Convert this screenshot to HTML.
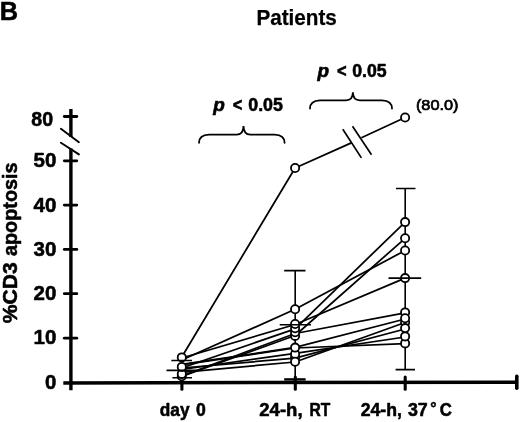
<!DOCTYPE html>
<html><head><meta charset="utf-8"><title>Patients</title>
<style>
html,body{margin:0;padding:0;background:#fff;}
body{width:520px;height:422px;overflow:hidden;}
svg{display:block;}
text{font-family:"Liberation Sans",Arial,Helvetica,sans-serif;fill:#000;}
.b{font-weight:bold;stroke:#000;stroke-width:0.55px;stroke-linejoin:round;}
</style></head><body>
<svg width="520" height="422" viewBox="0 0 520 422">
<rect width="520" height="422" fill="#fff"/>

<text class="b" x="-0.3" y="19.7" font-size="26.5" textLength="18.3" lengthAdjust="spacingAndGlyphs">B</text>
<text class="b" x="256.4" y="24.8" font-size="22.3" textLength="80.5" lengthAdjust="spacingAndGlyphs" style="stroke-width:0.25px">Patients</text>
<g transform="translate(17.4,0) rotate(-90)">
<text class="b" y="0"><tspan x="-323.2" font-size="20.5" textLength="60.8" lengthAdjust="spacingAndGlyphs">%CD3</tspan> <tspan x="-256" font-size="20" textLength="93.5" lengthAdjust="spacingAndGlyphs">apoptosis</tspan></text>
</g>
<text class="b" x="31.3" y="125.5" font-size="20.3" textLength="21.8" lengthAdjust="spacingAndGlyphs">80</text>
<text class="b" x="33.5" y="167.39999999999998" font-size="20.3" textLength="22.8" lengthAdjust="spacingAndGlyphs">50</text>
<text class="b" x="33.5" y="211.6" font-size="20.3" textLength="22.8" lengthAdjust="spacingAndGlyphs">40</text>
<text class="b" x="33.5" y="255.89999999999998" font-size="20.3" textLength="22.8" lengthAdjust="spacingAndGlyphs">30</text>
<text class="b" x="33.5" y="300.2" font-size="20.3" textLength="22.8" lengthAdjust="spacingAndGlyphs">20</text>
<text class="b" x="33.5" y="344.3" font-size="20.3" textLength="22.8" lengthAdjust="spacingAndGlyphs">10</text>
<text class="b" x="45.0" y="389.3" font-size="20.3" textLength="11.3" lengthAdjust="spacingAndGlyphs">0</text>
<text class="b" y="415.6"><tspan x="159.8" font-size="18" textLength="29.8" lengthAdjust="spacingAndGlyphs">day</tspan> <tspan x="196" font-size="18" textLength="9.8" lengthAdjust="spacingAndGlyphs">0</tspan></text>
<text class="b" y="415.6"><tspan x="259.3" font-size="18" textLength="43.3" lengthAdjust="spacingAndGlyphs">24-h,</tspan> <tspan x="309.5" font-size="18" textLength="20.8" lengthAdjust="spacingAndGlyphs">RT</tspan></text>
<text class="b" y="415.6"><tspan x="360.7" font-size="18" textLength="41.2" lengthAdjust="spacingAndGlyphs">24-h,</tspan> <tspan x="407.9" font-size="18" textLength="19.8" lengthAdjust="spacingAndGlyphs">37</tspan><tspan x="430.3" y="413.4" font-size="15" textLength="6.2" lengthAdjust="spacingAndGlyphs">°</tspan><tspan x="439.8" y="415.6" font-size="18" textLength="12.1" lengthAdjust="spacingAndGlyphs">C</tspan></text>
<text class="b" y="110.8"><tspan x="213.3" font-size="17.5" textLength="11.6" lengthAdjust="spacingAndGlyphs" font-style="italic">p</tspan> <tspan x="232.7" font-size="17.5" textLength="9.6" lengthAdjust="spacingAndGlyphs">&lt;</tspan> <tspan x="248.3" font-size="17.5" textLength="34.6" lengthAdjust="spacingAndGlyphs">0.05</tspan></text>
<text class="b" y="76.6"><tspan x="317.5" font-size="17.5" textLength="11.6" lengthAdjust="spacingAndGlyphs" font-style="italic">p</tspan> <tspan x="336.9" font-size="17.5" textLength="9.6" lengthAdjust="spacingAndGlyphs">&lt;</tspan> <tspan x="352.2" font-size="17.5" textLength="34.4" lengthAdjust="spacingAndGlyphs">0.05</tspan></text>
<text class="r" x="415.9" y="109.9" font-size="15.5" textLength="42.6" lengthAdjust="spacingAndGlyphs" stroke="#000" stroke-width="0.7">(80.0)</text>
<g stroke="#000" fill="none" stroke-linecap="butt">
<path d="M70.9 109 V137 M70.9 148.5 V390.3" stroke-width="3.4"/>
<path d="M63.3 382.9 L518 382.2" stroke-width="3.5"/>
</g>
<g stroke="#000" stroke-width="2.8" fill="none" stroke-linecap="round">
<path d="M64.3 116.5 H76.8"/>
<path d="M64.3 160.8 H76.8"/>
<path d="M64.3 205.1 H76.8"/>
<path d="M64.3 249.4 H76.8"/>
<path d="M64.3 293.7 H76.8"/>
<path d="M64.3 338.2 H76.8"/>
<path d="M181.9 377 V389.3" stroke-width="3.1"/>
<path d="M295.3 377 V389.3" stroke-width="3.1"/>
<path d="M405.2 377 V389.3" stroke-width="3.1"/>
<path d="M516.8 376.2 V388.2" stroke-width="3.6"/>
</g>
<g stroke="#000" stroke-width="1.9" fill="none" stroke-linecap="round">
<path d="M60.9 128.8 L78.9 142.3 M60.9 142.7 L78.9 154.4"/>
</g>
<g stroke="#000" stroke-width="1.6" fill="none">
<path d="M181.8 353 V382 M295.2 270.6 V380 M405.2 188.5 V369.6"/>
</g>
<g stroke="#000" stroke-width="1.75" fill="none" stroke-linejoin="round">
<path d="M181.8 357 L295.1 168 L351.9 142.6 M361.4 137.7 L405.1 117.5"/>
<path d="M181.8 360 L295.1 309.3 L405.1 250.5"/>
<path d="M181.8 358 L295.1 324.5 L405.1 278.1"/>
<path d="M181.8 368 L295.1 328.8 L405.1 222.1"/>
<path d="M181.8 376.5 L295.1 335.5 L405.1 238.3"/>
<path d="M181.8 376 L295.1 333.5 L405.1 312.8"/>
<path d="M181.8 364.4 L295.1 347.4 L405.1 319"/>
<path d="M181.8 369.5 L295.1 353.3 L405.1 337"/>
<path d="M181.8 368 L295.1 358.1 L405.1 329"/>
<path d="M181.8 372.3 L295.1 362 L405.1 322.5"/>
<path d="M181.8 364.8 L295.1 348 L405.1 343.6"/>
<path d="M342.8 129.2 L361.4 157.9 M352.5 126.3 L371.5 154.7" stroke-width="1.7"/>
</g>
<g stroke="#000" stroke-width="1.8" fill="#fff">
<circle cx="181.8" cy="376.3" r="4.1"/>
<circle cx="181.8" cy="374" r="4.1"/>
<circle cx="181.8" cy="366.9" r="4.1"/>
<circle cx="181.8" cy="357.4" r="4.1"/>
<circle cx="295.1" cy="357.5" r="4.1"/>
<circle cx="295.1" cy="354" r="4.1"/>
<circle cx="295.1" cy="361.7" r="4.1"/>
<circle cx="295.1" cy="347.6" r="4.1"/>
<circle cx="295.1" cy="335.9" r="4.1"/>
<circle cx="295.1" cy="332.2" r="4.1"/>
<circle cx="295.1" cy="328.2" r="4.1"/>
<circle cx="295.1" cy="324" r="4.1"/>
<circle cx="295.1" cy="309.2" r="4.1"/>
<circle cx="295.1" cy="168" r="4.1"/>
<circle cx="405.1" cy="322.5" r="4.1"/>
<circle cx="405.1" cy="343.4" r="4.1"/>
<circle cx="405.1" cy="312.4" r="4.1"/>
<circle cx="405.1" cy="336.4" r="4.1"/>
<circle cx="405.1" cy="328.1" r="4.1"/>
<circle cx="405.1" cy="318.2" r="4.1"/>
<circle cx="405.1" cy="278.1" r="4.1"/>
<circle cx="405.1" cy="250.5" r="4.1"/>
<circle cx="405.1" cy="238.3" r="4.1"/>
<circle cx="405.1" cy="222.1" r="4.1"/>
<circle cx="405.1" cy="117.5" r="4.1"/>
</g>
<g stroke="#000" stroke-width="1.6" fill="none">
<path d="M171.3 360.5 H192 M166.5 370.4 H197 M172.4 377.7 H192"/>
<path d="M284.2 270.6 H305.5 M279.7 324.7 H311"/>
<path d="M396 188.5 H415.5 M388.5 278.1 H421.2 M395.6 369.6 H415"/>
</g>
<path d="M284.2 379.4 H305.6" stroke="#000" stroke-width="2.4"/>
<g stroke="#000" stroke-width="1.8" fill="none" stroke-linecap="round">
<path d="M199 142.8 C199 137.6 202 134.9 209 134.6 L236.5 134.6 C241.5 134.6 243.5 131.6 243.5 126 C243.5 131.6 245.5 134.6 250.5 134.6 L274.6 134.6 C281.6 134.9 284.6 137.6 284.6 142.8"/>
<path d="M310 108.5 C310 103.3 313 100.6 320 100.3 L345.9 100.3 C350.9 100.3 352.9 97.3 352.9 92.3 C352.9 97.3 354.9 100.3 359.9 100.3 L382 100.3 C389 100.6 392 103.3 392 108.5"/>
</g>
</svg></body></html>
